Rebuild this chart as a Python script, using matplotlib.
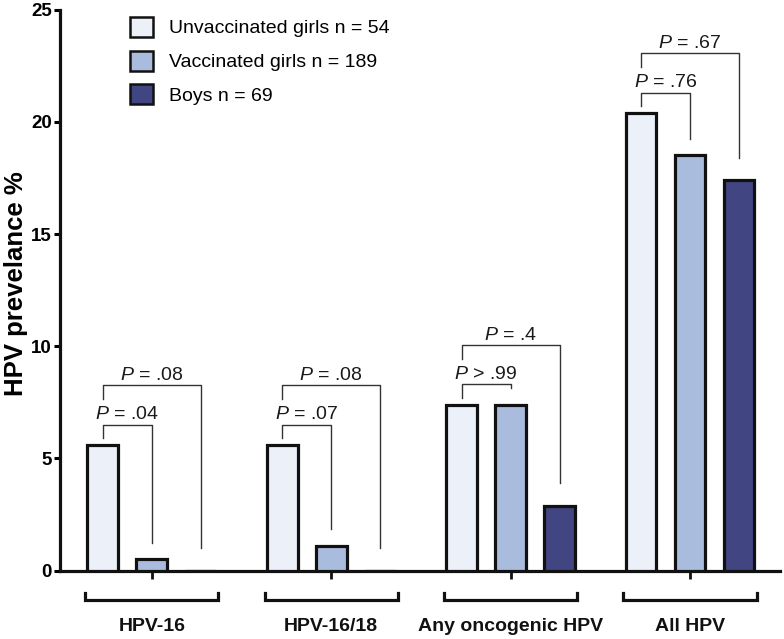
import matplotlib
matplotlib.use("Agg")
import matplotlib.pyplot as plt
from matplotlib.patches import Patch
import numpy as np

plt.rcParams["font.family"] = ["Liberation Sans", "DejaVu Sans"]
plt.rcParams["mathtext.fontset"] = "custom"
plt.rcParams["mathtext.it"] = "Liberation Sans:italic"
plt.rcParams["mathtext.rm"] = "Liberation Sans"

groups = ["HPV-16", "HPV-16/18", "Any oncogenic HPV", "All HPV"]
series_names = ["Unvaccinated girls n = 54", "Vaccinated girls n = 189", "Boys n = 69"]
unvaccinated = [5.6, 5.6, 7.4, 20.4]
vaccinated = [0.5, 1.1, 7.4, 18.5]
boys = [0.0, 0.0, 2.9, 17.4]
p_inner = [r"$P$ = .04", r"$P$ = .07", r"$P$ > .99", r"$P$ = .76"]
p_outer = [r"$P$ = .08", r"$P$ = .08", r"$P$ = .4", r"$P$ = .67"]

colors = ["#ECF0F8", "#AABCDD", "#414682"]
offset = 0.273
width = 0.172

fig = plt.figure(figsize=(7.84, 6.39), dpi=100)
ax = fig.add_axes([0.0765, 0.107, 0.918, 0.878])

x = np.arange(len(groups))
all_series = [unvaccinated, vaccinated, boys]
for i, vals in enumerate(all_series):
    ax.bar(x + (i - 1) * offset, vals, width, color=colors[i],
           edgecolor="#111111", linewidth=2.3, zorder=3)

ax.set_xlim(-0.512, 3.50)
ax.set_ylim(0, 25)
ax.set_yticks([0, 5, 10, 15, 20, 25])
ax.tick_params(axis="y", direction="out", length=4, width=2.2, pad=2,
               labelsize=13.5)
for lab in ax.get_yticklabels():
    lab.set_fontweight("bold")
ax.set_xticks(x)
ax.set_xticklabels([])
ax.tick_params(axis="x", direction="out", length=6, width=2, color="#111111")
for s in ["top", "right"]:
    ax.spines[s].set_visible(False)
for s in ["left", "bottom"]:
    ax.spines[s].set_linewidth(2.3)
    ax.spines[s].set_color("#111111")
ax.set_ylabel("HPV prevelance %", fontsize=18.5, fontweight="bold")
ax.yaxis.set_label_coords(-0.045, 0.511)

# significance brackets
lc = "#333333"
for g in range(len(groups)):
    x0 = g - offset
    x1 = g
    x2 = g + offset
    top = max(unvaccinated[g], vaccinated[g], boys[g])
    y_in = top + 0.9
    y_out = top + 2.65
    ax.plot([x0, x0, x1, x1], [y_in - 0.6, y_in, y_in, vaccinated[g] + 0.75],
            color=lc, lw=1.0, zorder=2)
    ax.plot([x0, x0, x2, x2], [y_out - 0.6, y_out, y_out, boys[g] + 1.0],
            color=lc, lw=1.0, zorder=2)
    ax.annotate(p_inner[g], ((x0 + x1) / 2, y_in), xytext=(0, 4),
                textcoords="offset points", ha="center", va="baseline",
                fontsize=14, color="#1a1a1a")
    ax.annotate(p_outer[g], ((x0 + x2) / 2, y_out), xytext=(0, 4),
                textcoords="offset points", ha="center", va="baseline",
                fontsize=14, color="#1a1a1a")

# group brackets below the axis
for g in range(len(groups)):
    xl = g - offset - 0.098
    xr = g + offset + 0.098
    ax.plot([xl, xl, xr, xr], [-1.0, -1.3, -1.3, -1.0], color="#111111",
            lw=2.3, clip_on=False, solid_joinstyle="miter")
    ax.text(g, -2.5, groups[g], ha="center", va="center", fontsize=14,
            fontweight="bold", color="#111111")

handles = [Patch(facecolor=colors[i], edgecolor="#111111", linewidth=1.8)
           for i in range(3)]
ax.legend(handles, series_names, loc="upper left",
          bbox_to_anchor=(0.097, 0.987), frameon=False, fontsize=14,
          handlelength=1.2, handleheight=1.2, handletextpad=0.8,
          labelspacing=0.68, borderpad=0, borderaxespad=0)

fig.savefig("out.png", dpi=100)
